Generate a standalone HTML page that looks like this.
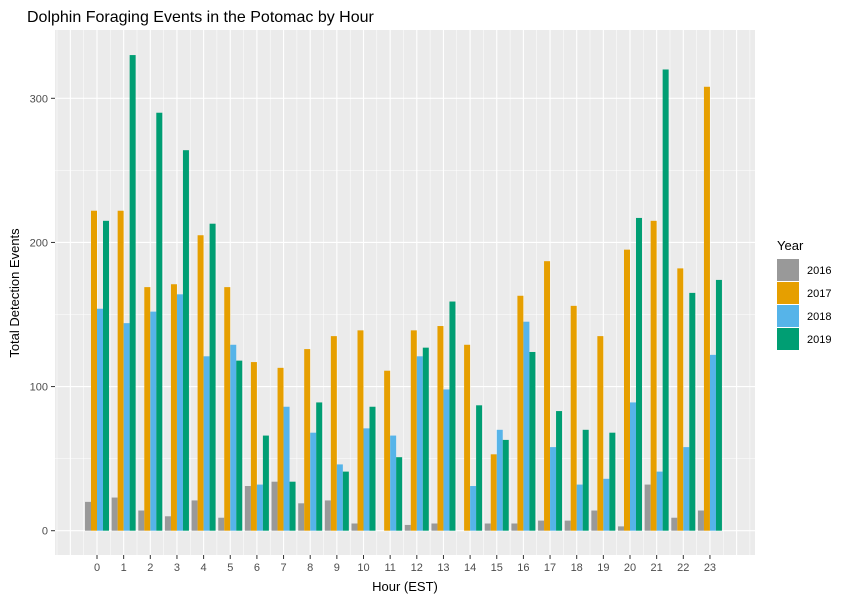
<!DOCTYPE html>
<html><head><meta charset="utf-8">
<style>
body{margin:0;background:#fff;font-family:"Liberation Sans",Arial,sans-serif;}
svg text{font-family:"Liberation Sans",Arial,sans-serif;}
</style></head>
<body>
<svg id="chart" width="850" height="600" viewBox="0 0 850 600" xmlns="http://www.w3.org/2000/svg">
<text x="27" y="22" font-size="16" fill="#000">Dolphin Foraging Events in the Potomac by Hour</text>
<rect x="55" y="30" width="700" height="525" fill="#ebebeb"/>
<g id="grid"></g>
<g id="bars"></g>
<g id="axes"></g>
<text x="405" y="591" font-size="13" text-anchor="middle">Hour (EST)</text>
<text transform="translate(19,293) rotate(-90)" font-size="13" text-anchor="middle">Total Detection Events</text>
<g id="legend"></g>
</svg>
<script>
const hours=[0,1,2,3,4,5,6,7,8,9,10,11,12,13,14,15,16,17,18,19,20,21,22,23];
const years=["2016","2017","2018","2019"];
const colors=["#999999","#E69F00","#56B4E9","#009E73"];
const v2016=[20,23,14,10,21,9,31,34,19,21,5,0,4,5,0,5,5,7,7,14,3,32,9,14];
const v2017=[222,222,169,171,205,169,117,113,126,135,139,111,139,142,129,53,163,187,156,135,195,215,182,308];
const v2018=[154,144,152,164,121,129,32,86,68,46,71,66,121,98,31,70,145,58,32,36,89,41,58,122];
const v2019=[215,330,290,264,213,118,66,34,89,41,86,51,127,159,87,63,124,83,70,68,217,320,165,174];
const yTicks=[0,100,200,300];
const series=[v2016,v2017,v2018,v2019];
const NS="http://www.w3.org/2000/svg";
const x=h=>97+h*26.65;
const y=v=>530.7-v*1.4413;
const unit=26.65;
function mk(tag,attrs,parent){const e=document.createElementNS(NS,tag);for(const k in attrs)e.setAttribute(k,attrs[k]);parent.appendChild(e);return e;}
const grid=document.getElementById('grid'),bars=document.getElementById('bars'),axes=document.getElementById('axes'),legend=document.getElementById('legend');
// y gridlines
for(let v=-50;v<=350;v+=50){const yy=y(v);if(yy<30||yy>555)continue;const major=v%100===0;
 const l=mk('line',{x1:55,x2:755,y1:yy,y2:yy,stroke:'#fff','stroke-width':major?1.1:0.5},grid);
 
 }
// x gridlines
for(let h=-1.5;h<=24.5;h+=0.5){const xx=x(h);if(xx<55||xx>755)continue;const major=Number.isInteger(h);
 const l=mk('line',{x1:xx,x2:xx,y1:30,y2:555,stroke:'#fff','stroke-width':major?1.1:0.5},grid);
 
 }
// bars
const bw=unit*0.9/4;
hours.forEach((h,i)=>{series.forEach((s,j)=>{const val=s[i];if(val<=0)return;
 const r=mk('rect',{x:x(h)-unit*0.45+j*bw,y:y(val),width:bw,height:y(0)-y(val),fill:colors[j]},bars);
 
 });});
// y ticks
yTicks.forEach(t=>{const yy=y(t);
 const tk=mk('line',{x1:51,x2:55,y1:yy,y2:yy,stroke:'#333','stroke-width':1},axes);
 
 
 const tx=mk('text',{x:48,y:yy+4,'font-size':11,fill:'#4d4d4d','text-anchor':'end'},axes);tx.textContent=t;
 
 });
// x ticks
hours.forEach(h=>{const xx=x(h);
 const tk=mk('line',{x1:xx,x2:xx,y1:555,y2:559,stroke:'#333','stroke-width':1},axes);
 
 
 const tx=mk('text',{x:xx,y:571,'font-size':11,fill:'#4d4d4d','text-anchor':'middle'},axes);tx.textContent=h;
 
 });
// legend
const lt=mk('text',{x:777,y:250,'font-size':13,fill:'#000'},legend);lt.textContent='Year';


years.forEach((yr,j)=>{const yy=259+j*23;
 const k=mk('rect',{x:777,y:yy,width:22,height:22,fill:colors[j]},legend);
 
 
 const t=mk('text',{x:807,y:yy+15,'font-size':11,fill:'#000'},legend);t.textContent=yr;
 
 });
</script>
</body></html>
